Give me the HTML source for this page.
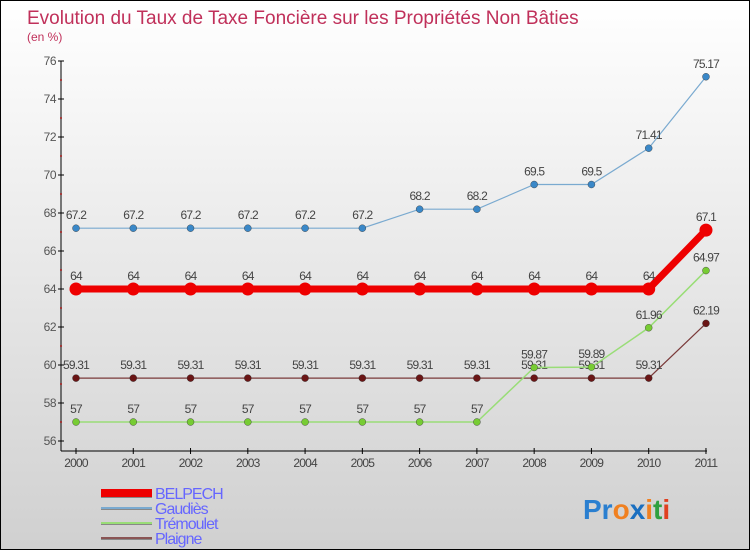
<!DOCTYPE html>
<html><head><meta charset="utf-8"><style>
body{margin:0}
#c{width:750px;height:550px;position:relative;overflow:hidden;box-sizing:border-box;border:1px solid #000;background:linear-gradient(#ffffff,#d0d0d0);font-family:"Liberation Sans",sans-serif}
svg text{font-family:"Liberation Sans",sans-serif}
</style></head><body>
<div id="c">
<svg id="s" width="750" height="550">
<text x="26" y="23" font-size="19" fill="#c0305a">Evolution du Taux de Taxe Foncière sur les Propriétés Non Bâties</text>
<text x="26" y="40" font-size="12" fill="#c0305a">(en %)</text>
<g id="g"></g>
</svg>
</div>
<script>
const years=["2000","2001","2002","2003","2004","2005","2006","2007","2008","2009","2010","2011"];
const belpech=[64,64,64,64,64,64,64,64,64,64,64,67.1];
const gaudies=[67.2,67.2,67.2,67.2,67.2,67.2,68.2,68.2,69.5,69.5,71.41,75.17];
const tremoulet=[57,57,57,57,57,57,57,57,59.87,59.89,61.96,64.97];
const plaigne=[59.31,59.31,59.31,59.31,59.31,59.31,59.31,59.31,59.31,59.31,59.31,62.19];
const yTicks=[56,58,60,62,64,66,68,70,72,74,76];
const NS="http://www.w3.org/2000/svg";
const g=document.getElementById('g');
const X=i=>75+i*57.27;
const Y=v=>440-(v-56)*19;
function mk(t,a,p){const e=document.createElementNS(NS,t);for(const k in a)e.setAttribute(k,a[k]);(p||g).appendChild(e);return e;}
let ax=mk('line',{x1:60,y1:60,x2:60,y2:450,stroke:'#000','stroke-width':1});


ax=mk('line',{x1:60,y1:450,x2:706,y2:450,stroke:'#000','stroke-width':1});


yTicks.forEach((v,i)=>{
  mk('line',{x1:57,x2:63,y1:Y(v),y2:Y(v),stroke:'#000'});
  if(i<yTicks.length-1)mk('line',{x1:59,x2:61,y1:Y(v+1),y2:Y(v+1),stroke:'#c00'});
  const t=mk('text',{x:55,y:Y(v)+4,'font-size':12,fill:'#555','text-anchor':'end','letter-spacing':'-0.5'});t.textContent=v;
  
  
});
years.forEach((y,i)=>{
  mk('line',{x1:X(i),x2:X(i),y1:447,y2:453,stroke:'#000'});
  const t=mk('text',{x:X(i),y:466,'font-size':12,fill:'#444','text-anchor':'middle','letter-spacing':'-0.8'});t.textContent=y;
  
  
});
function series(data,name,col,dot,w,r){
  const pts=data.map((v,i)=>X(i)+','+Y(v)).join(' ');
  const l=mk('polyline',{points:pts,fill:'none',stroke:col,'stroke-width':w});
  
  
  data.forEach((v,i)=>{
    const c=mk('circle',{cx:X(i),cy:Y(v),r:r,fill:dot,stroke:w>3?'none':'#333','stroke-width':0.4});
    
    
    const t=mk('text',{x:X(i),y:Y(v)-9,'font-size':12,fill:'#444','text-anchor':'middle','letter-spacing':'-0.8'});t.textContent=v;
    
    
  });
}
series(plaigne,'plaigne','#7a3a3a','#6a1515',1.2,3.5);
series(tremoulet,'tremoulet','#99dd77','#77cc33',1.5,3.5);
series(gaudies,'gaudies','#7aaad0','#3a88c8',1.2,3.5);
series(belpech,'belpech','#ee0000','#ee0000',7,6.5);
const leg=[['BELPECH','#ee0000',8],['Gaudiès','#7aaad0',2],['Trémoulet','#99dd77',2],['Plaigne','#8a5555',2]];
leg.forEach((d,i)=>{
  const y=492+i*15;
  const gr=mk('g',{});
  
  
  mk('line',{x1:100,x2:151,y1:y+1,y2:y+1,stroke:'#888','stroke-width':d[2]},gr);
  mk('line',{x1:100,x2:151,y1:y,y2:y,stroke:d[1],'stroke-width':d[2]},gr);
  const t=mk('text',{x:154,y:y+6,'font-size':16,fill:'#6666ff','letter-spacing':'-1'},gr);t.textContent=d[0];
});
const lg=mk('text',{x:582,y:518,'font-size':28,'font-weight':'bold'});


[['Pr','#2a7fd0'],['o','#f08020'],['x','#1a6fc0'],['i','#f08020'],['t','#30a040'],['i','#e04020']].forEach(p=>{const s=mk('tspan',{fill:p[1]},lg);s.textContent=p[0];});
</script>
</body></html>
